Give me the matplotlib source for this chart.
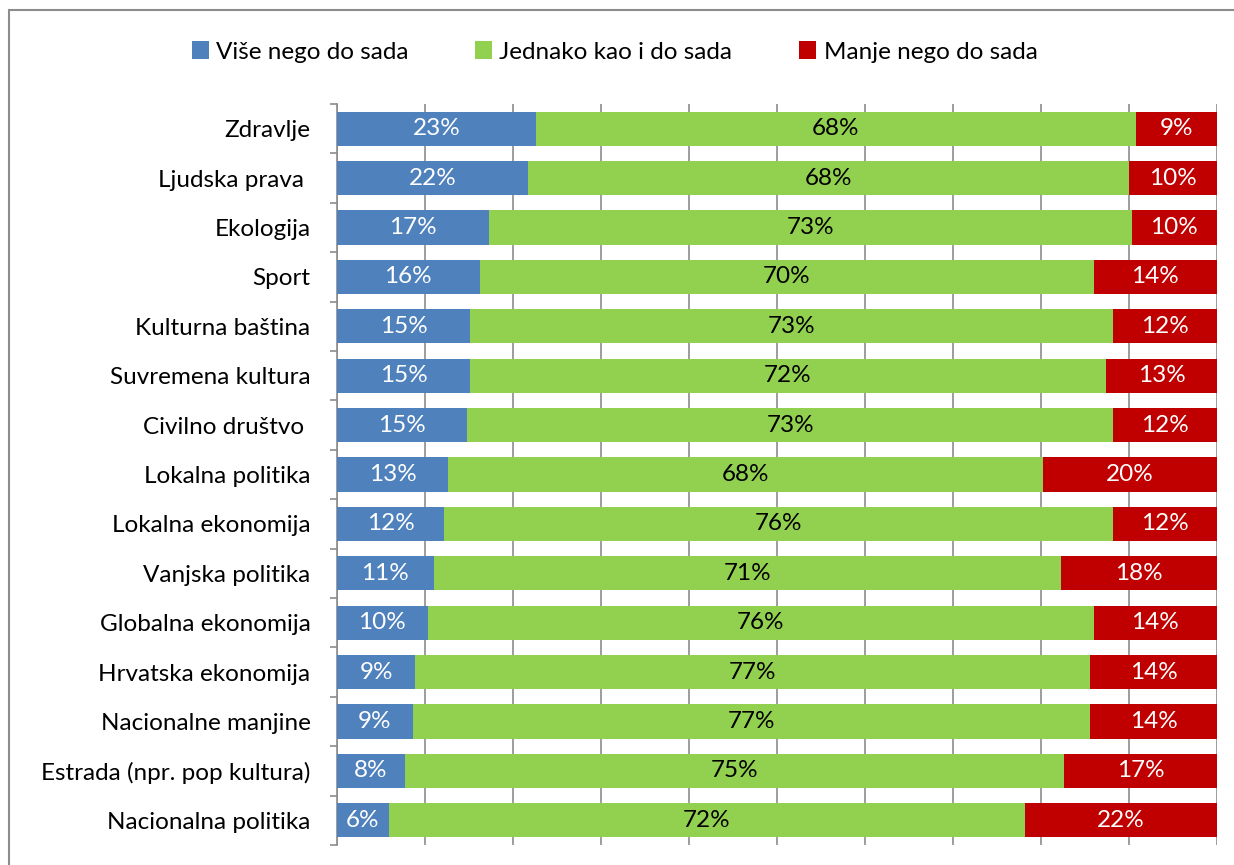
import matplotlib
matplotlib.use("Agg")
import matplotlib.pyplot as plt
from matplotlib.patches import Patch, Rectangle
from matplotlib.ticker import FixedLocator

plt.rcParams['font.family'] = ['Lato', 'DejaVu Sans']

categories = ["Zdravlje", "Ljudska prava ", "Ekologija", "Sport", "Kulturna baština",
              "Suvremena kultura", "Civilno društvo ", "Lokalna politika", "Lokalna ekonomija",
              "Vanjska politika", "Globalna ekonomija", "Hrvatska ekonomija",
              "Nacionalne manjine", "Estrada (npr. pop kultura)", "Nacionalna politika"]
vise = [22.6, 21.7, 17.3, 16.2, 15.1, 15.1, 14.8, 12.6, 12.2, 11.0, 10.3, 8.9, 8.6, 7.7, 5.9]
jednako = [68.2, 68.3, 73.0, 69.8, 73.1, 72.3, 73.4, 67.6, 76.0, 71.3, 75.7, 76.7, 77.0, 74.9, 72.3]
manje = [9.2, 10.0, 9.7, 14.0, 11.8, 12.6, 11.8, 19.8, 11.8, 17.7, 14.0, 14.4, 14.4, 17.4, 21.8]
series_names = ["Više nego do sada", "Jednako kao i do sada", "Manje nego do sada"]
colors = ["#4F81BD", "#92D050", "#C00000"]
text_colors = ["white", "black", "white"]

FS = 17.5

fig = plt.figure(figsize=(12.34, 8.65), dpi=100)
ax = fig.add_axes([337/1234, 20/865, 880/1234, 741/865])

y = list(range(len(categories)))
left = [0.0] * len(categories)
for vals, col, tcol, name in zip([vise, jednako, manje], colors, text_colors, series_names):
    ax.barh(y, vals, left=left, color=col, height=0.69, zorder=3, label=name)
    for yi, l, v in zip(y, left, vals):
        ax.text(l + v / 2, yi, f"{v:.0f}%", ha="center", va="center",
                color=tcol, fontsize=FS, zorder=4)
    left = [a + b for a, b in zip(left, vals)]

ax.set_xlim(0, 100)
ax.set_ylim(len(categories) - 0.5, -0.5)
ax.set_xticks(range(0, 101, 10))
ax.xaxis.grid(True, color="#8c8c8c", linewidth=1.2, zorder=0)
ax.tick_params(axis="x", length=0, labelbottom=False)
ax.set_yticks(y)
ax.set_yticklabels(categories, fontsize=FS)
ax.tick_params(axis="y", which="major", length=0, pad=19)
ax.yaxis.set_minor_locator(FixedLocator([i - 0.5 for i in range(len(categories) + 1)]))
ax.tick_params(axis="y", which="minor", length=5, width=1.2, color="#8c8c8c", direction="out")
for s in ["top", "right", "bottom"]:
    ax.spines[s].set_visible(False)
ax.spines["left"].set_color("#8c8c8c")
ax.spines["left"].set_linewidth(1.2)

handles = [Patch(facecolor=c, edgecolor="none") for c in colors]
fig.legend(handles, series_names, loc="center", bbox_to_anchor=(0.498, 1 - 52/865),
           ncol=3, frameon=False, fontsize=FS, handlelength=0.7, handleheight=0.7,
           handletextpad=0.3, columnspacing=2.75)

# chart-area border (left and top visible)
fig.add_artist(Rectangle((9/1234, -0.1), 1.2, 1 - 10/865 + 0.1, transform=fig.transFigure,
                         fill=False, edgecolor="#8c8c8c", linewidth=1.5))

fig.savefig("out.png", dpi=100)
